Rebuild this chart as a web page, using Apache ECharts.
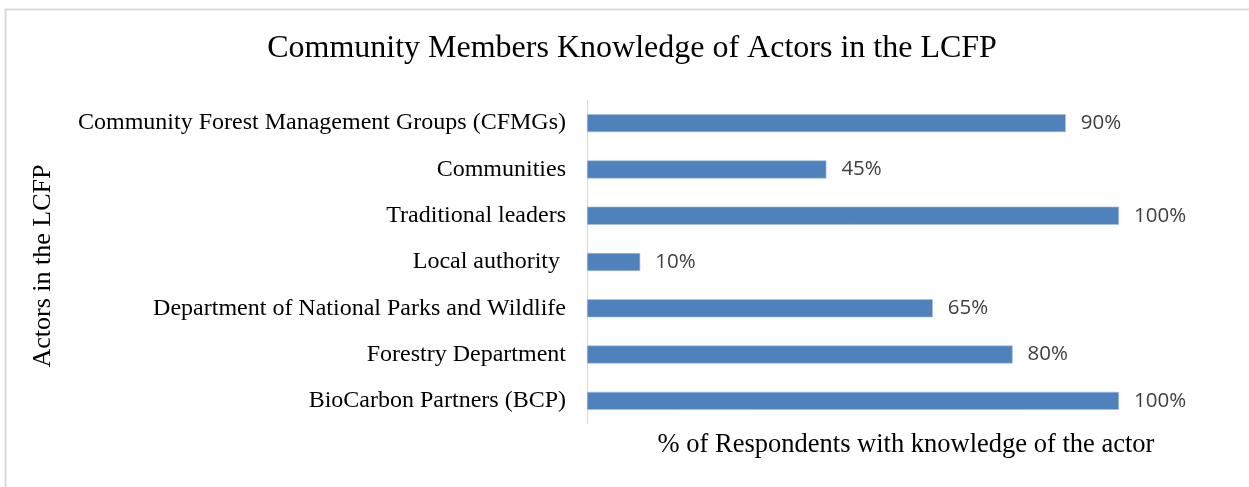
<!DOCTYPE html>
<html><head><meta charset="utf-8">
<script src="https://cdn.jsdelivr.net/npm/echarts@6/dist/echarts.min.js"></script>
<style>html,body{margin:0;padding:0;background:#fff}#c{width:1249px;height:487px}</style>
</head><body><div id="c"></div>
<script>
const categories = [
  'BioCarbon Partners (BCP)',
  'Forestry Department',
  'Department of National Parks and Wildlife',
  'Local authority ',
  'Traditional leaders',
  'Communities',
  'Community Forest Management Groups (CFMGs)'
];
const values = [100, 80, 65, 10, 100, 45, 90];
const titleText = 'Community Members Knowledge of Actors in the LCFP';
const yName = 'Actors in the LCFP';
const xName = '% of Respondents with knowledge of the actor';

const chart = echarts.init(document.getElementById('c'));
chart.setOption({
  animation: false,
  backgroundColor: '#fff',
  graphic: [
    {type: 'line', shape: {x1: 5, y1: 9.5, x2: 1249, y2: 9.5}, style: {stroke: '#d9d9d9', lineWidth: 2}},
    {type: 'line', shape: {x1: 5.5, y1: 9, x2: 5.5, y2: 487}, style: {stroke: '#d9d9d9', lineWidth: 2}},
    {type: 'text', x: 632, y: 49, style: {text: titleText, font: '32px "Liberation Serif"', fill: '#000', align: 'center', verticalAlign: 'middle'}},
    {type: 'text', x: 43, y: 266, rotation: Math.PI/2, style: {text: yName, font: '26px "Liberation Serif"', fill: '#000', align: 'center', verticalAlign: 'middle'}},
    {type: 'text', x: 906, y: 445, style: {text: xName, font: '26.5px "Liberation Serif"', fill: '#000', align: 'center', verticalAlign: 'middle'}}
  ],
  grid: {left: 587, right: 130, top: 100, bottom: 63},
  xAxis: {
    type: 'value', min: 0, max: 100,
    axisLabel: {show: false}, splitLine: {show: false}, axisLine: {show: false}, axisTick: {show: false}
  },
  yAxis: {
    type: 'category', data: categories,
    axisLine: {show: true, lineStyle: {color: '#d9d9d9', width: 1}},
    axisTick: {show: false},
    axisLabel: {fontFamily: 'Liberation Serif', fontSize: 24, color: '#000', margin: 21, padding: [3, 0, 0, 0]}
  },
  series: [{
    type: 'bar', data: values, barWidth: 18,
    itemStyle: {color: '#4f81bd', borderColor: '#a7bfde', borderWidth: 0.6},
    label: {
      show: true, position: 'right', distance: 15, formatter: '{c}%',
      fontFamily: 'Open Sans', fontSize: 20.5, color: '#404040', padding: [2, 0, 0, 0]
    }
  }]
});
</script></body></html>
